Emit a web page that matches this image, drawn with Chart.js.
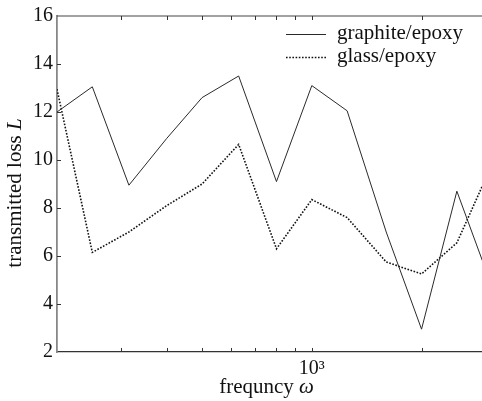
<!DOCTYPE html>
<html><head><meta charset="utf-8">
<script src="https://cdn.jsdelivr.net/npm/chart.js@4/dist/chart.umd.min.js"></script>
<style>html,body{margin:0;padding:0;background:#fff;overflow:hidden}#wrap{position:relative;width:482px;height:401px}</style>
</head><body><div id="wrap"><canvas id="c" width="482" height="401"></canvas></div>
<script>
const frequencies = [200, 250, 315, 400, 500, 630, 800, 1000, 1250, 1600, 2000, 2500, 3150];
const graphiteEpoxy = [12.0, 13.05, 8.95, 10.9, 12.6, 13.5, 9.1, 13.1, 12.05, 7.0, 2.95, 8.7, 4.55];
const glassEpoxy = [12.95, 6.15, 7.0, 8.1, 9.0, 10.65, 6.3, 8.35, 7.6, 5.75, 5.25, 6.55, 9.95];
const seriesLabels = ['graphite/epoxy', 'glass/epoxy'];
const xTickValues = [200, 300, 400, 500, 600, 700, 800, 900, 1000, 2000];
const xTickLabels = {1000: '10³'};
const yTickValues = [2, 4, 6, 8, 10, 12, 14, 16];
const xTitle = ['frequncy ', 'ω'];
const yTitle = ['transmitted loss ', 'L'];

const FONT = '"Liberation Serif", "Times New Roman", serif';

function drawMixed(ctx, parts, cx, baseY, size) {
  const fonts = [size + 'px ' + FONT, 'italic ' + size + 'px ' + FONT];
  let total = 0;
  const widths = parts.map((p, i) => { ctx.font = fonts[i]; const w = ctx.measureText(p).width; total += w; return w; });
  let x = cx - total / 2;
  ctx.textAlign = 'left';
  ctx.textBaseline = 'alphabetic';
  parts.forEach((p, i) => { ctx.font = fonts[i]; ctx.fillText(p, x, baseY); x += widths[i]; });
}

const framePlugin = {
  id: 'frame',
  afterDraw(chart) {
    const {ctx, chartArea: a, scales: {x, y}} = chart;
    ctx.save();
    ctx.strokeStyle = '#444';
    ctx.lineWidth = 1.2;
    ctx.beginPath(); ctx.moveTo(a.left, a.top); ctx.lineTo(a.right + 2, a.top); ctx.stroke();
    ctx.lineWidth = 1;
    ctx.strokeStyle = '#333';
    x.ticks.forEach(t => {
      const px = Math.round(x.getPixelForValue(t.value)) + 0.5;
      if (px <= a.left + 2 || px >= a.right - 1) return;
      ctx.beginPath();
      ctx.moveTo(px, a.bottom); ctx.lineTo(px, a.bottom - 4);
      ctx.moveTo(px, a.top); ctx.lineTo(px, a.top + 4);
      ctx.stroke();
    });
    y.ticks.forEach(t => {
      const py = Math.round(y.getPixelForValue(t.value)) + 0.5;
      if (py <= a.top + 2 || py >= a.bottom - 2) return;
      ctx.beginPath(); ctx.moveTo(a.left, py); ctx.lineTo(a.left + 4, py); ctx.stroke();
    });
    ctx.fillStyle = '#111';
    drawMixed(ctx, xTitle, (a.left + a.right) / 2 - 3, 393, 21);
    ctx.save();
    ctx.translate(21, (a.top + a.bottom) / 2 + 9);
    ctx.rotate(-Math.PI / 2);
    drawMixed(ctx, yTitle, 0, 0, 21);
    ctx.restore();
    const rows = [34, 57];
    chart.data.datasets.forEach((ds, i) => {
      const yy = rows[i];
      ctx.save();
      ctx.strokeStyle = ds.borderColor;
      ctx.lineWidth = ds.borderWidth;
      ctx.setLineDash(ds.borderDash || []);
      ctx.beginPath(); ctx.moveTo(286, yy + 0.5); ctx.lineTo(326, yy + 0.5); ctx.stroke();
      ctx.restore();
      ctx.fillStyle = '#111';
      ctx.font = '21px ' + FONT;
      ctx.textAlign = 'left';
      ctx.textBaseline = 'alphabetic';
      ctx.fillText(ds.label, 337, yy + 5);
    });
    ctx.restore();
  }
};

function build() {
  new Chart(document.getElementById('c'), {
    type: 'line',
    data: {
      datasets: [
        {label: seriesLabels[0], data: frequencies.map((f, i) => ({x: f, y: graphiteEpoxy[i]})),
         borderColor: '#2a2a2a', borderWidth: 1, pointRadius: 0, tension: 0, fill: false},
        {label: seriesLabels[1], data: frequencies.map((f, i) => ({x: f, y: glassEpoxy[i]})),
         borderColor: '#111', borderWidth: 1.6, borderDash: [1.6, 1.6], pointRadius: 0, tension: 0, fill: false}
      ]
    },
    options: {
      responsive: false,
      animation: false,
      devicePixelRatio: 1,
      layout: {padding: {top: 14, right: 0, left: 0, bottom: 0}},
      plugins: {legend: {display: false}, tooltip: {enabled: false}},
      scales: {
        x: {
          type: 'logarithmic', min: 200, max: 2930,
          afterBuildTicks: s => { s.ticks = xTickValues.map(v => ({value: v})); },
          afterFit: s => { s.height = 49; },
          grid: {display: true, drawOnChartArea: false, drawTicks: false, color: 'rgba(0,0,0,0)'},
          border: {display: true, color: '#333', width: 1.3},
          ticks: {autoSkip: false, maxRotation: 0, padding: 5, color: '#111',
                  font: {family: FONT, size: 20},
                  callback: v => xTickLabels[v] || ''}
        },
        y: {
          type: 'linear', min: 2, max: 16,
          afterBuildTicks: s => { s.ticks = yTickValues.map(v => ({value: v})); },
          afterFit: s => { s.width = 57; },
          grid: {display: true, drawOnChartArea: false, drawTicks: false, color: 'rgba(0,0,0,0)'},
          border: {display: true, color: '#888', width: 1.8},
          ticks: {padding: 4, color: '#111', font: {family: FONT, size: 20}}
        }
      }
    },
    plugins: [framePlugin]
  });
}

Promise.all([
  document.fonts.load('20px "Liberation Serif"'),
  document.fonts.load('italic 21px "Liberation Serif"')
]).then(build, build);
</script></body></html>
